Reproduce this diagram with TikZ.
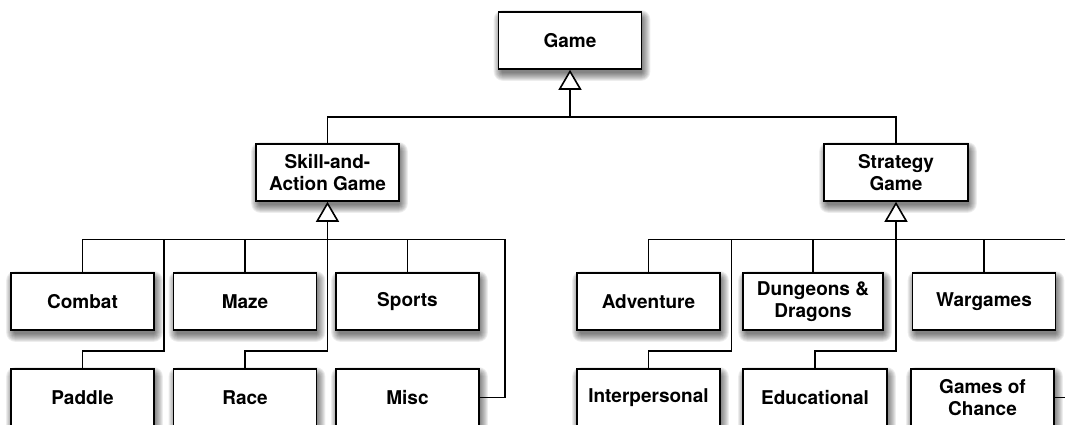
\documentclass[tikz,border=0pt]{standalone}
\usepackage{fontspec}
\setmainfont{TeX Gyre Heros}
\usetikzlibrary{arrows.meta,calc}

\pgfdeclarelayer{shadow}
\pgfsetlayers{shadow,main}

\tikzset{
  cat/.style={draw=black, line width=1.6pt, fill=white,
    minimum width=143pt, minimum height=57pt, inner sep=2pt,
    align=center, font=\fontsize{19}{22.5}\selectfont\bfseries},
  link/.style={draw=black, line width=1.6pt},
  isa/.style={link, -{Triangle[fill=white, width=23pt, length=20pt, line width=1.6pt]}}
}

% soft drop shadow under a box: stacked translucent rectangles
\newcommand\boxshade[1]{%
  \begin{pgfonlayer}{shadow}
    \foreach \r in {1,...,9}{
      \fill[black, opacity=0.07, rounded corners=\r pt]
        ($(#1.north west)+(5-\r,8-\r)$) rectangle ($(#1.south east)+(\r-1,\r+2)$);
    }
  \end{pgfonlayer}}

\begin{document}
\begin{tikzpicture}[x=1pt, y=-1pt]
  \clip (0,0) rectangle (1065,425);

  % root and the two main families
  \node[cat] (game) at (570,40.5) {Game};
  \node[cat] (skill) at (327.5,172.5) {Skill-and-\\Action Game};
  \node[cat, minimum width=144pt] (strategy) at (896,172.5) {Strategy\\Game};

  % skill-and-action games
  \node[cat] (combat) at (82.5,301.5) {Combat};
  \node[cat] (maze) at (245,301.5) {Maze};
  \node[cat] (sports) at (407.5,301.5) {Sports};
  \node[cat] (paddle) at (82.5,397.5) {Paddle};
  \node[cat] (race) at (245,397.5) {Race};
  \node[cat] (misc) at (407.5,397.5) {Misc};

  % strategy games
  \node[cat] (adventure) at (648.5,301.5) {Adventure};
  \node[cat, minimum width=140pt] (dnd) at (813,301.5) {Dungeons \&\\Dragons};
  \node[cat] (wargames) at (984,301.5) {Wargames};
  \node[cat] (inter) at (648.5,397.5) {Interpersonal};
  \node[cat, minimum width=144pt] (edu) at (815,397.5) {Educational};
  \node[cat] (chance) at (982.5,397.5) {Games of\\Chance};

  % shadows behind every box
  \foreach \n in {game,skill,strategy,combat,maze,sports,paddle,race,misc,
                  adventure,dnd,wargames,inter,edu,chance}{\boxshade{\n}}

  % junctions of the inheritance buses
  \coordinate (gj) at (570,117);
  \coordinate (sj) at (327.5,239.5);
  \coordinate (tj) at (896,239.5);
  \coordinate (pbend) at ($(combat.east)!.5!(maze.west)$);
  \coordinate (ibend) at ($(adventure.east)!.5!(dnd.west)$);

  % Game
  \draw[link] (skill.north) |- (gj);
  \draw[link] (strategy.north) |- (gj);
  \draw[isa] (gj) -- (game.south);

  % Skill-and-Action Game
  \draw[link] (combat.north) |- (sj);
  \draw[link] (maze.north) |- (sj);
  \draw[link] (sports.north) |- (sj);
  \draw[link] (paddle.north) -- ++(0,-17.5) -| (pbend |- sj) -- (sj);
  \draw[link] (race.north) -- ++(0,-17.5) -| (sj);
  \draw[link] (misc.east) -- ++(25,0) |- (sj);
  \draw[isa] (sj) -- (skill.south);

  % Strategy Game
  \draw[link] (adventure.north) |- (tj);
  \draw[link] (dnd.north) |- (tj);
  \draw[link] (wargames.north) |- (tj);
  \draw[link] (inter.north) -- ++(0,-17.5) -| (ibend |- tj) -- (tj);
  \draw[link] (edu.north) -- ++(0,-17.5) -| (tj);
  \draw[link] (chance.east) -- ++(40,0) |- (tj);
  \draw[isa] (tj) -- (strategy.south);
\end{tikzpicture}
\end{document}
